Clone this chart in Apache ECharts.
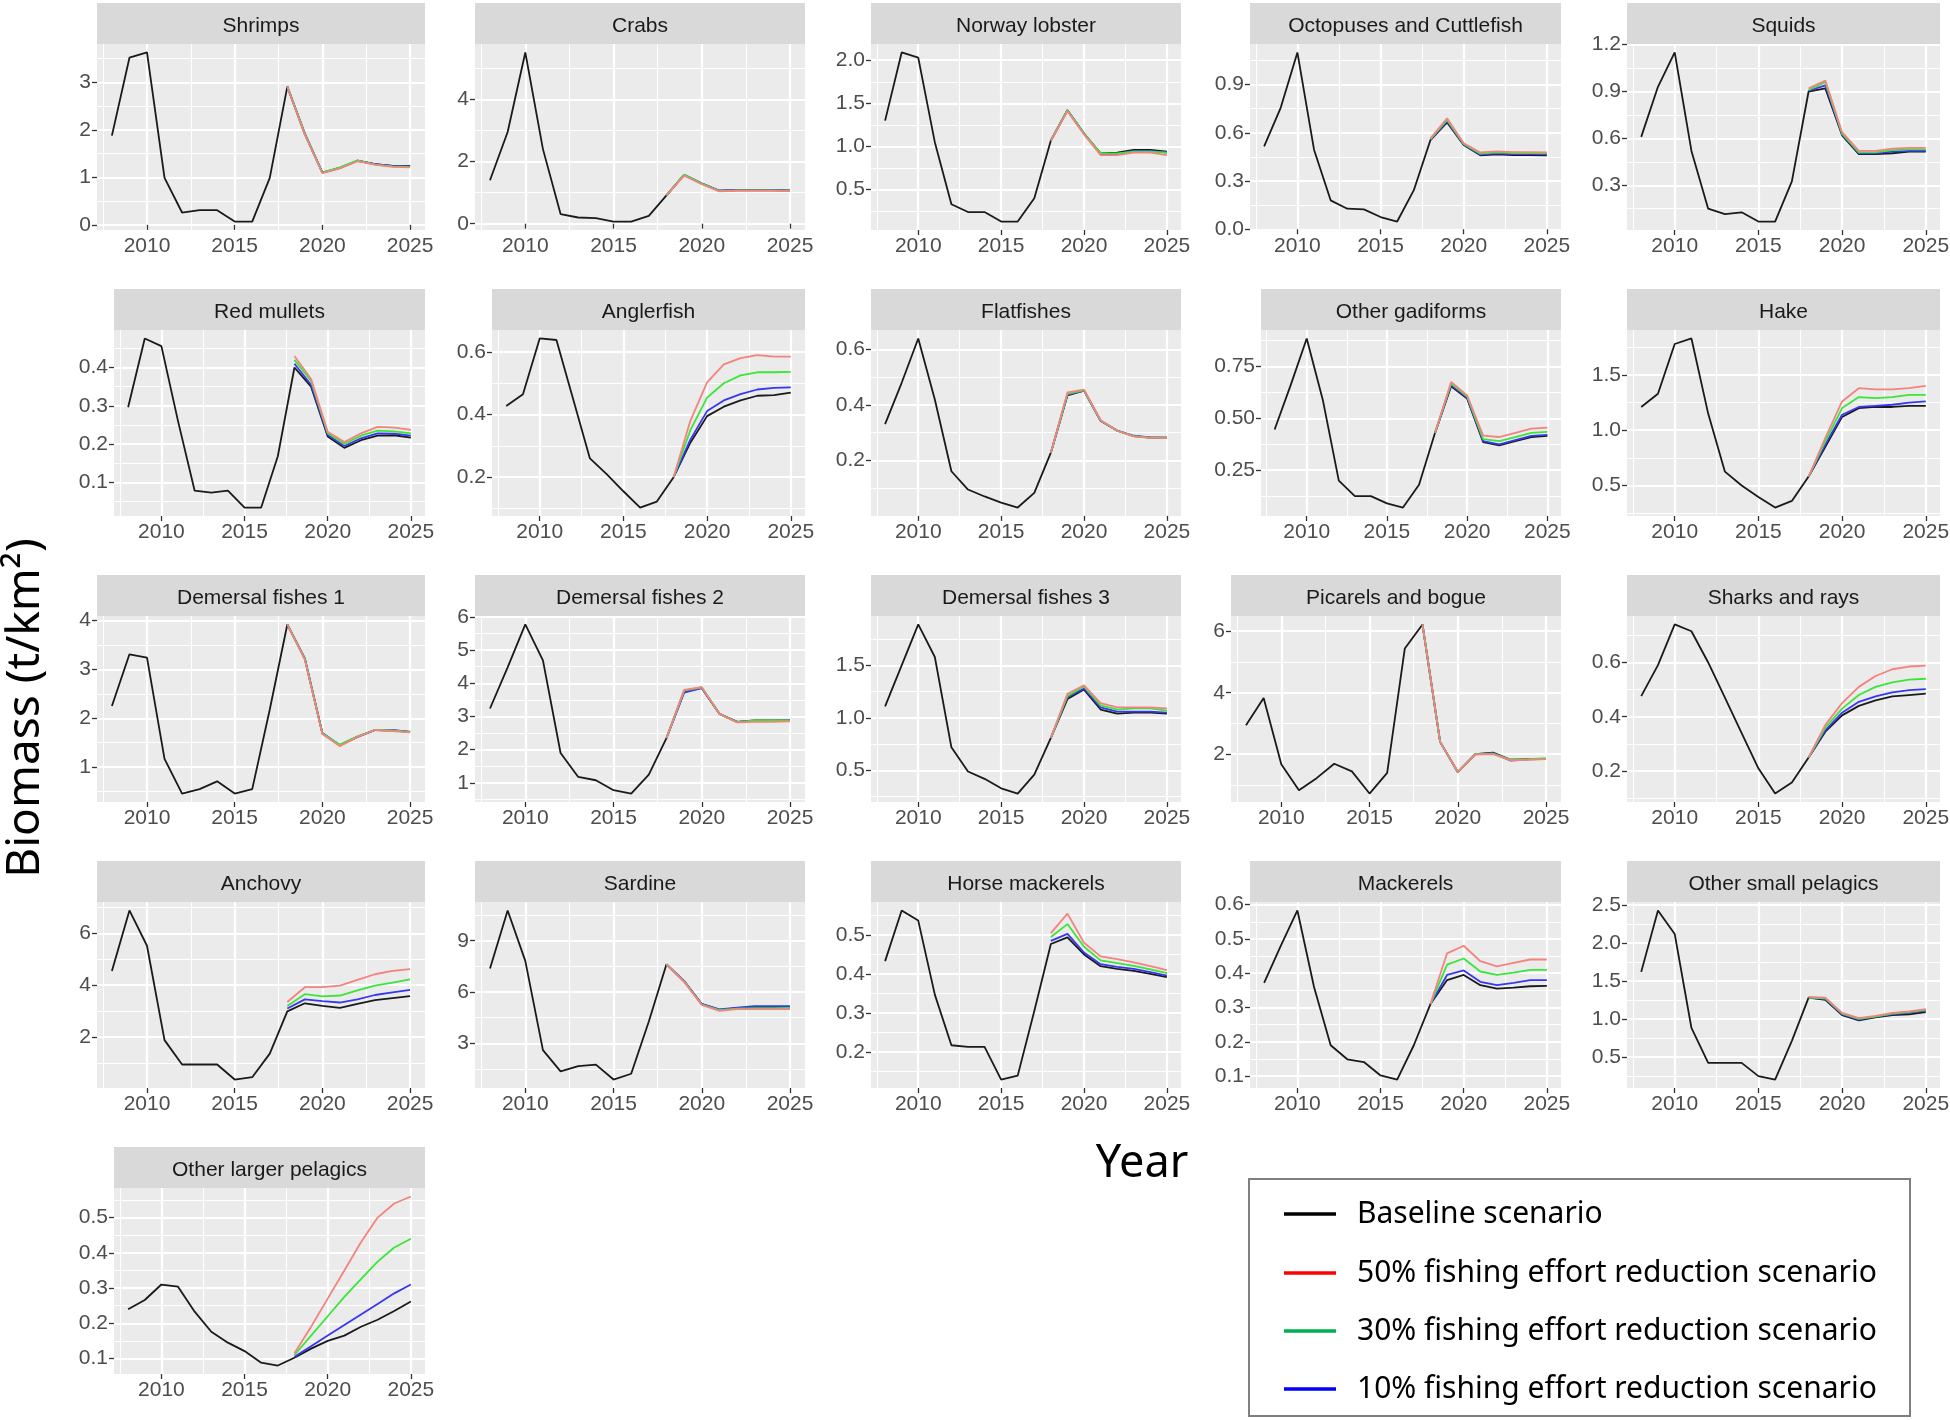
<!DOCTYPE html>
<html>
<head>
<meta charset="utf-8">
<title>Biomass by functional group</title>
<script src="https://cdn.jsdelivr.net/npm/echarts@6/dist/echarts.min.js"></script>
<style>
  html, body { margin: 0; padding: 0; background: #fff; }
  #main { width: 1950px; height: 1420px; }
</style>
</head>
<body>
<div id="main"></div>
<script>
// years of the hindcast + projection, and the projection years only
const years = [2008, 2009, 2010, 2011, 2012, 2013, 2014, 2015, 2016, 2017, 2018, 2019, 2020, 2021, 2022, 2023, 2024, 2025];
const projYears = [2018, 2019, 2020, 2021, 2022, 2023, 2024, 2025];
const xMajor = [2010, 2015, 2020, 2025];
const xMinor = [2007.5, 2012.5, 2017.5, 2022.5];

// ---- values (t/km2) ----
const shrimpsBase = [1.88, 3.52, 3.63, 0.99, 0.26, 0.31, 0.31, 0.07, 0.07, 0.99, 2.91, 1.92, 1.10, 1.20, 1.35, 1.28, 1.24, 1.24];
const shrimps50 = [2.91, 1.90, 1.09, 1.19, 1.34, 1.27, 1.22, 1.21];
const shrimps30 = [2.91, 1.91, 1.10, 1.21, 1.36, 1.27, 1.23, 1.22];
const shrimps10 = [2.91, 1.91, 1.10, 1.20, 1.35, 1.28, 1.24, 1.23];
const shrimpsTicks = ['0', '1', '2', '3'];

const crabsBase = [1.40, 2.95, 5.51, 2.40, 0.31, 0.20, 0.18, 0.07, 0.07, 0.25, 0.91, 1.57, 1.29, 1.06, 1.08, 1.08, 1.08, 1.06];
const crabs50 = [0.91, 1.55, 1.27, 1.04, 1.06, 1.06, 1.06, 1.05];
const crabs30 = [0.91, 1.58, 1.29, 1.05, 1.07, 1.07, 1.07, 1.06];
const crabs10 = [0.91, 1.57, 1.30, 1.06, 1.08, 1.08, 1.09, 1.07];
const crabsTicks = ['0', '2', '4'];

const lobsterBase = [1.30, 2.09, 2.03, 1.05, 0.33, 0.24, 0.24, 0.13, 0.13, 0.40, 1.07, 1.42, 1.15, 0.92, 0.93, 0.96, 0.96, 0.94];
const lobster50 = [1.07, 1.41, 1.14, 0.90, 0.90, 0.93, 0.93, 0.90];
const lobster30 = [1.07, 1.42, 1.15, 0.92, 0.92, 0.94, 0.94, 0.93];
const lobster10 = [1.07, 1.42, 1.15, 0.91, 0.91, 0.95, 0.95, 0.93];
const lobsterTicks = ['0.5', '1.0', '1.5', '2.0'];

const octopusBase = [0.516, 0.757, 1.10, 0.495, 0.180, 0.128, 0.124, 0.076, 0.048, 0.243, 0.555, 0.665, 0.525, 0.460, 0.466, 0.462, 0.462, 0.460];
const octopus50 = [0.565, 0.690, 0.535, 0.478, 0.484, 0.480, 0.480, 0.478];
const octopus30 = [0.560, 0.680, 0.530, 0.470, 0.478, 0.474, 0.474, 0.472];
const octopus10 = [0.558, 0.672, 0.527, 0.464, 0.472, 0.468, 0.468, 0.466];
const octopusTicks = ['0.0', '0.3', '0.6', '0.9'];

const squidsBase = [0.61, 0.93, 1.15, 0.52, 0.15, 0.116, 0.127, 0.068, 0.068, 0.325, 0.90, 0.92, 0.62, 0.50, 0.50, 0.505, 0.515, 0.515];
const squids50 = [0.92, 0.97, 0.64, 0.52, 0.52, 0.535, 0.54, 0.54];
const squids30 = [0.91, 0.96, 0.63, 0.51, 0.51, 0.525, 0.53, 0.53];
const squids10 = [0.905, 0.94, 0.625, 0.505, 0.505, 0.515, 0.52, 0.52];
const squidsTicks = ['0.3', '0.6', '0.9', '1.2'];

const mulletsBase = [0.296, 0.476, 0.456, 0.26, 0.078, 0.073, 0.078, 0.034, 0.034, 0.168, 0.40, 0.35, 0.22, 0.19, 0.21, 0.222, 0.223, 0.217];
const mullets50 = [0.43, 0.37, 0.232, 0.205, 0.228, 0.245, 0.243, 0.237];
const mullets30 = [0.42, 0.365, 0.228, 0.200, 0.222, 0.235, 0.233, 0.228];
const mullets10 = [0.41, 0.355, 0.224, 0.195, 0.215, 0.228, 0.227, 0.222];
const mulletsTicks = ['0.1', '0.2', '0.3', '0.4'];

const anglerBase = [0.427, 0.465, 0.643, 0.638, 0.449, 0.26, 0.21, 0.155, 0.103, 0.122, 0.2, 0.31, 0.395, 0.425, 0.445, 0.46, 0.462, 0.47];
const angler50 = [0.2, 0.38, 0.503, 0.56, 0.58, 0.59, 0.585, 0.585];
const angler30 = [0.2, 0.35, 0.454, 0.50, 0.525, 0.535, 0.535, 0.536];
const angler10 = [0.2, 0.32, 0.411, 0.445, 0.465, 0.48, 0.485, 0.487];
const anglerTicks = ['0.2', '0.4', '0.6'];

const flatBase = [0.331, 0.48, 0.64, 0.42, 0.161, 0.095, 0.07, 0.048, 0.03, 0.083, 0.228, 0.435, 0.452, 0.343, 0.307, 0.288, 0.282, 0.282];
const flat50 = [0.228, 0.445, 0.455, 0.345, 0.307, 0.287, 0.281, 0.281];
const flat30 = [0.228, 0.44, 0.453, 0.344, 0.307, 0.288, 0.282, 0.282];
const flat10 = [0.228, 0.437, 0.452, 0.343, 0.308, 0.289, 0.283, 0.282];
const flatTicks = ['0.2', '0.4', '0.6'];

const gadiBase = [0.446, 0.66, 0.885, 0.59, 0.20, 0.125, 0.125, 0.09, 0.07, 0.18, 0.43, 0.655, 0.595, 0.385, 0.37, 0.39, 0.41, 0.415];
const gadi50 = [0.43, 0.675, 0.61, 0.417, 0.41, 0.43, 0.45, 0.455];
const gadi30 = [0.43, 0.668, 0.605, 0.40, 0.39, 0.41, 0.43, 0.435];
const gadi10 = [0.43, 0.66, 0.60, 0.39, 0.375, 0.395, 0.415, 0.42];
const gadiTicks = ['0.25', '0.50', '0.75'];

const hakeBase = [1.21, 1.33, 1.78, 1.83, 1.15, 0.625, 0.50, 0.395, 0.30, 0.36, 0.58, 0.85, 1.12, 1.20, 1.21, 1.21, 1.22, 1.22];
const hake50 = [0.58, 0.93, 1.26, 1.38, 1.37, 1.37, 1.38, 1.40];
const hake30 = [0.58, 0.90, 1.20, 1.30, 1.29, 1.30, 1.32, 1.32];
const hake10 = [0.58, 0.87, 1.14, 1.21, 1.22, 1.23, 1.25, 1.26];
const hakeTicks = ['0.5', '1.0', '1.5'];

const dem1Base = [2.25, 3.31, 3.24, 1.17, 0.46, 0.55, 0.71, 0.46, 0.55, 2.18, 3.92, 3.22, 1.69, 1.45, 1.62, 1.76, 1.75, 1.72];
const dem150 = [3.92, 3.20, 1.68, 1.43, 1.62, 1.76, 1.74, 1.71];
const dem130 = [3.92, 3.21, 1.69, 1.46, 1.63, 1.76, 1.75, 1.72];
const dem110 = [3.92, 3.22, 1.70, 1.45, 1.62, 1.76, 1.76, 1.72];
const dem1Ticks = ['1', '2', '3', '4'];

const dem2Base = [3.24, 4.48, 5.77, 4.69, 1.90, 1.18, 1.08, 0.78, 0.68, 1.25, 2.35, 3.75, 3.86, 3.08, 2.84, 2.88, 2.88, 2.88];
const dem250 = [2.35, 3.80, 3.88, 3.08, 2.82, 2.84, 2.84, 2.85];
const dem230 = [2.35, 3.78, 3.88, 3.08, 2.83, 2.88, 2.88, 2.88];
const dem210 = [2.35, 3.72, 3.85, 3.08, 2.84, 2.87, 2.87, 2.88];
const dem2Ticks = ['1', '2', '3', '4', '5', '6'];

const dem3Base = [1.11, 1.50, 1.89, 1.58, 0.72, 0.49, 0.42, 0.33, 0.28, 0.46, 0.81, 1.18, 1.27, 1.08, 1.04, 1.05, 1.05, 1.04];
const dem350 = [0.81, 1.23, 1.31, 1.14, 1.10, 1.10, 1.10, 1.09];
const dem330 = [0.81, 1.21, 1.30, 1.12, 1.08, 1.09, 1.09, 1.07];
const dem310 = [0.81, 1.20, 1.28, 1.10, 1.06, 1.06, 1.06, 1.05];
const dem3Ticks = ['0.5', '1.0', '1.5'];

const picarelBase = [2.94, 3.83, 1.67, 0.83, 1.22, 1.69, 1.44, 0.72, 1.39, 5.44, 6.22, 2.40, 1.42, 2.00, 2.05, 1.82, 1.84, 1.85];
const picarel50 = [6.22, 2.40, 1.42, 1.99, 2.00, 1.80, 1.82, 1.84];
const picarel30 = [6.22, 2.40, 1.42, 2.00, 2.02, 1.82, 1.84, 1.87];
const picarel10 = [6.22, 2.40, 1.42, 2.00, 2.03, 1.79, 1.83, 1.85];
const picarelTicks = ['2', '4', '6'];

const sharksBase = [0.476, 0.59, 0.74, 0.715, 0.60, 0.47, 0.34, 0.21, 0.117, 0.158, 0.25, 0.345, 0.405, 0.44, 0.46, 0.475, 0.48, 0.485];
const sharks50 = [0.25, 0.37, 0.45, 0.51, 0.55, 0.575, 0.585, 0.588];
const sharks30 = [0.25, 0.36, 0.43, 0.48, 0.51, 0.527, 0.537, 0.54];
const sharks10 = [0.25, 0.35, 0.415, 0.455, 0.475, 0.49, 0.498, 0.502];
const sharksTicks = ['0.2', '0.4', '0.6'];

const anchovyBase = [4.55, 6.88, 5.52, 1.88, 0.94, 0.94, 0.94, 0.36, 0.45, 1.36, 2.99, 3.30, 3.20, 3.12, 3.28, 3.42, 3.50, 3.58];
const anchovy50 = [3.35, 3.92, 3.92, 3.98, 4.20, 4.42, 4.55, 4.62];
const anchovy30 = [3.20, 3.65, 3.57, 3.60, 3.80, 3.98, 4.10, 4.22];
const anchovy10 = [3.10, 3.45, 3.38, 3.33, 3.45, 3.62, 3.72, 3.82];
const anchovyTicks = ['2', '4', '6'];

const sardineBase = [7.37, 10.77, 7.82, 2.60, 1.36, 1.67, 1.75, 0.88, 1.22, 4.27, 7.62, 6.63, 5.29, 4.96, 5.06, 5.12, 5.12, 5.12];
const sardine50 = [7.62, 6.60, 5.25, 4.90, 5.00, 5.00, 5.00, 5.00];
const sardine30 = [7.62, 6.62, 5.27, 4.94, 5.03, 5.06, 5.06, 5.07];
const sardine10 = [7.62, 6.65, 5.30, 4.98, 5.08, 5.18, 5.18, 5.18];
const sardineTicks = ['3', '6', '9'];

const horseBase = [0.433, 0.563, 0.537, 0.347, 0.217, 0.213, 0.213, 0.129, 0.139, 0.305, 0.477, 0.494, 0.45, 0.42, 0.413, 0.408, 0.400, 0.392];
const horse50 = [0.505, 0.555, 0.48, 0.445, 0.438, 0.43, 0.42, 0.41];
const horse30 = [0.495, 0.528, 0.47, 0.435, 0.428, 0.421, 0.412, 0.402];
const horse10 = [0.485, 0.503, 0.455, 0.425, 0.418, 0.413, 0.405, 0.396];
const horseTicks = ['0.2', '0.3', '0.4', '0.5'];

const mackerelBase = [0.372, 0.48, 0.583, 0.36, 0.19, 0.149, 0.141, 0.102, 0.09, 0.19, 0.31, 0.38, 0.395, 0.365, 0.355, 0.358, 0.362, 0.363];
const mackerel50 = [0.31, 0.458, 0.48, 0.435, 0.42, 0.43, 0.44, 0.44];
const mackerel30 = [0.31, 0.425, 0.443, 0.405, 0.395, 0.402, 0.41, 0.41];
const mackerel10 = [0.31, 0.395, 0.408, 0.375, 0.365, 0.372, 0.38, 0.38];
const mackerelTicks = ['0.1', '0.2', '0.3', '0.4', '0.5', '0.6'];

const smallPelBase = [1.62, 2.43, 2.12, 0.88, 0.42, 0.42, 0.42, 0.245, 0.20, 0.71, 1.28, 1.25, 1.05, 0.98, 1.02, 1.05, 1.06, 1.09];
const smallPel50 = [1.29, 1.28, 1.08, 1.01, 1.04, 1.08, 1.10, 1.13];
const smallPel30 = [1.28, 1.27, 1.07, 1.00, 1.03, 1.07, 1.09, 1.12];
const smallPel10 = [1.28, 1.26, 1.06, 0.99, 1.03, 1.06, 1.08, 1.11];
const smallPelTicks = ['0.5', '1.0', '1.5', '2.0', '2.5'];

const largePelBase = [0.24, 0.266, 0.31, 0.304, 0.233, 0.176, 0.145, 0.121, 0.088, 0.08, 0.102, 0.128, 0.15, 0.165, 0.19, 0.21, 0.235, 0.262];
const largePel50 = [0.115, 0.19, 0.27, 0.35, 0.43, 0.50, 0.54, 0.56];
const largePel30 = [0.11, 0.165, 0.22, 0.275, 0.325, 0.375, 0.415, 0.44];
const largePel10 = [0.105, 0.135, 0.165, 0.195, 0.225, 0.255, 0.285, 0.31];
const largePelTicks = ['0.1', '0.2', '0.3', '0.4', '0.5'];

const scenarioNames = ['Baseline scenario', '50% fishing effort reduction scenario', '30% fishing effort reduction scenario', '10% fishing effort reduction scenario'];

const panels = [
  { name: 'Shrimps', base: shrimpsBase, s50: shrimps50, s30: shrimps30, s10: shrimps10, ticks: shrimpsTicks },
  { name: 'Crabs', base: crabsBase, s50: crabs50, s30: crabs30, s10: crabs10, ticks: crabsTicks },
  { name: 'Norway lobster', base: lobsterBase, s50: lobster50, s30: lobster30, s10: lobster10, ticks: lobsterTicks },
  { name: 'Octopuses and Cuttlefish', base: octopusBase, s50: octopus50, s30: octopus30, s10: octopus10, ticks: octopusTicks },
  { name: 'Squids', base: squidsBase, s50: squids50, s30: squids30, s10: squids10, ticks: squidsTicks },
  { name: 'Red mullets', base: mulletsBase, s50: mullets50, s30: mullets30, s10: mullets10, ticks: mulletsTicks },
  { name: 'Anglerfish', base: anglerBase, s50: angler50, s30: angler30, s10: angler10, ticks: anglerTicks },
  { name: 'Flatfishes', base: flatBase, s50: flat50, s30: flat30, s10: flat10, ticks: flatTicks },
  { name: 'Other gadiforms', base: gadiBase, s50: gadi50, s30: gadi30, s10: gadi10, ticks: gadiTicks },
  { name: 'Hake', base: hakeBase, s50: hake50, s30: hake30, s10: hake10, ticks: hakeTicks },
  { name: 'Demersal fishes 1', base: dem1Base, s50: dem150, s30: dem130, s10: dem110, ticks: dem1Ticks },
  { name: 'Demersal fishes 2', base: dem2Base, s50: dem250, s30: dem230, s10: dem210, ticks: dem2Ticks },
  { name: 'Demersal fishes 3', base: dem3Base, s50: dem350, s30: dem330, s10: dem310, ticks: dem3Ticks },
  { name: 'Picarels and bogue', base: picarelBase, s50: picarel50, s30: picarel30, s10: picarel10, ticks: picarelTicks },
  { name: 'Sharks and rays', base: sharksBase, s50: sharks50, s30: sharks30, s10: sharks10, ticks: sharksTicks },
  { name: 'Anchovy', base: anchovyBase, s50: anchovy50, s30: anchovy30, s10: anchovy10, ticks: anchovyTicks },
  { name: 'Sardine', base: sardineBase, s50: sardine50, s30: sardine30, s10: sardine10, ticks: sardineTicks },
  { name: 'Horse mackerels', base: horseBase, s50: horse50, s30: horse30, s10: horse10, ticks: horseTicks },
  { name: 'Mackerels', base: mackerelBase, s50: mackerel50, s30: mackerel30, s10: mackerel10, ticks: mackerelTicks },
  { name: 'Other small pelagics', base: smallPelBase, s50: smallPel50, s30: smallPel30, s10: smallPel10, ticks: smallPelTicks },
  { name: 'Other larger pelagics', base: largePelBase, s50: largePel50, s30: largePel30, s10: largePel10, ticks: largePelTicks }
];

// ---- layout (pixels) ----
const panelLeft = [97, 475, 871, 1250, 1627, 114, 492, 871, 1261, 1627, 97, 475, 871, 1231, 1627, 97, 475, 871, 1250, 1627, 114];
const colRight = [425, 805, 1181, 1561, 1940];
const rowStep = 286, stripTop = 3, stripH = 41, panelH = 186;

const lineColors = { base: '#1a1a1a', s50: '#F4837D', s30: '#39E639', s10: '#3737F2' };
const legendColors = ['#000000', '#FF0000', '#00B050', '#0000FF'];
const tickFont = { color: '#4D4D4D', fontSize: 21, fontFamily: 'Liberation Sans, Arial, sans-serif' };

const chart = echarts.init(document.getElementById('main'), null, { renderer: 'canvas' });

const grids = [], xAxes = [], yAxes = [], series = [], graphics = [];

// ggplot pads the data range by 5% on each side
const xPad = (years[years.length - 1] - years[0]) * 0.05;
const xMin = years[0] - xPad, xMax = years[years.length - 1] + xPad;

panels.forEach((p, k) => {
  const row = Math.floor(k / 5), col = k % 5;
  const left = panelLeft[k];
  const width = colRight[col] - left;
  const top = stripTop + stripH + row * rowStep;

  grids.push({ left: left, top: top, width: width, height: panelH, show: true,
    backgroundColor: '#EBEBEB', borderWidth: 0, outerBoundsMode: 'none' });

  const all = p.base.concat(p.s50, p.s30, p.s10);
  const lo = Math.min.apply(null, all), hi = Math.max.apply(null, all);
  const pad = (hi - lo) * 0.05;
  const yMin = lo - pad, yMax = hi + pad;
  const major = p.ticks.map(Number);
  const step = major[1] - major[0];
  const minor = [major[0] - step / 2].concat(major.map(v => v + step / 2))
    .filter(v => v > yMin && v < yMax);

  // minor grid axes (no labels)
  xAxes.push({ type: 'value', gridIndex: k, position: 'bottom', min: xMin, max: xMax,
    axisLine: { show: false }, axisTick: { show: false, customValues: xMinor },
    axisLabel: { show: false, customValues: xMinor },
    splitLine: { show: true, lineStyle: { color: '#FFFFFF', width: 1.1 } } });
  yAxes.push({ type: 'value', gridIndex: k, position: 'left', min: yMin, max: yMax,
    axisLine: { show: false }, axisTick: { show: false, customValues: minor },
    axisLabel: { show: false, customValues: minor },
    splitLine: { show: true, lineStyle: { color: '#FFFFFF', width: 1.1 } } });
  // major axes
  xAxes.push({ type: 'value', gridIndex: k, position: 'bottom', min: xMin, max: xMax,
    axisLine: { show: false },
    axisTick: { show: true, length: 5, customValues: xMajor, lineStyle: { color: '#333333', width: 1.3 } },
    axisLabel: Object.assign({ customValues: xMajor, margin: 6, formatter: v => String(v) }, tickFont),
    splitLine: { show: true, lineStyle: { color: '#FFFFFF', width: 2.2 } } });
  yAxes.push({ type: 'value', gridIndex: k, position: 'left', min: yMin, max: yMax,
    axisLine: { show: false },
    axisTick: { show: true, length: 5, customValues: major, lineStyle: { color: '#333333', width: 1.3 } },
    axisLabel: Object.assign({ customValues: major, margin: 6,
      formatter: v => p.ticks[major.findIndex(m => Math.abs(m - v) < 1e-9)] || '' }, tickFont),
    splitLine: { show: true, lineStyle: { color: '#FFFFFF', width: 2.2 } } });

  const ax = 2 * k + 1;
  const mk = (name, xs, ys, color, z) => ({
    name: name, type: 'line', xAxisIndex: ax, yAxisIndex: ax,
    data: xs.map((x, i) => [x, ys[i]]), showSymbol: false, symbol: 'none',
    lineStyle: { color: color, width: 1.8 }, silent: true, animation: false, z: z
  });
  series.push(mk(scenarioNames[0], years, p.base, lineColors.base, 2));
  series.push(mk(scenarioNames[3], projYears, p.s10, lineColors.s10, 3));
  series.push(mk(scenarioNames[2], projYears, p.s30, lineColors.s30, 4));
  series.push(mk(scenarioNames[1], projYears, p.s50, lineColors.s50, 5));

  // facet strip
  graphics.push({ type: 'rect', shape: { x: left, y: top - stripH, width: width, height: stripH },
    style: { fill: '#D9D9D9' }, silent: true });
  graphics.push({ type: 'text', x: left + width / 2, y: top - stripH / 2 + 3,
    style: { text: p.name, fill: '#1A1A1A', font: '21px "Liberation Sans", Arial, sans-serif',
      textAlign: 'center', textVerticalAlign: 'middle' }, silent: true });
});

// axis titles
graphics.push({ type: 'text', x: 26, y: 708, rotation: Math.PI / 2,
  style: { text: 'Biomass (t/km\u00B2)', fill: '#000', font: '46px "Noto Sans", sans-serif',
    textAlign: 'center', textVerticalAlign: 'middle' }, silent: true });
graphics.push({ type: 'text', x: 1142, y: 1164,
  style: { text: 'Year', fill: '#000', font: '45px "Noto Sans", sans-serif',
    textAlign: 'center', textVerticalAlign: 'middle' }, silent: true });

// legend box
graphics.push({ type: 'rect', shape: { x: 1249, y: 1179, width: 661, height: 237 },
  style: { fill: '#fff', stroke: '#7F7F7F', lineWidth: 2 }, silent: true });
const legendY = [1214, 1273, 1331, 1389];
scenarioNames.forEach((name, i) => {
  graphics.push({ type: 'line', shape: { x1: 1284, y1: legendY[i], x2: 1336, y2: legendY[i] },
    style: { stroke: legendColors[i], lineWidth: 3.5 }, silent: true });
  graphics.push({ type: 'text', x: 1357, y: legendY[i],
    style: { text: name, fill: '#000', font: '30px "Noto Sans", sans-serif',
      textAlign: 'left', textVerticalAlign: 'middle' }, silent: true });
});

chart.setOption({
  backgroundColor: '#FFFFFF',
  animation: false,
  grid: grids,
  xAxis: xAxes,
  yAxis: yAxes,
  series: series,
  graphic: { elements: graphics }
});
</script>
</body>
</html>
